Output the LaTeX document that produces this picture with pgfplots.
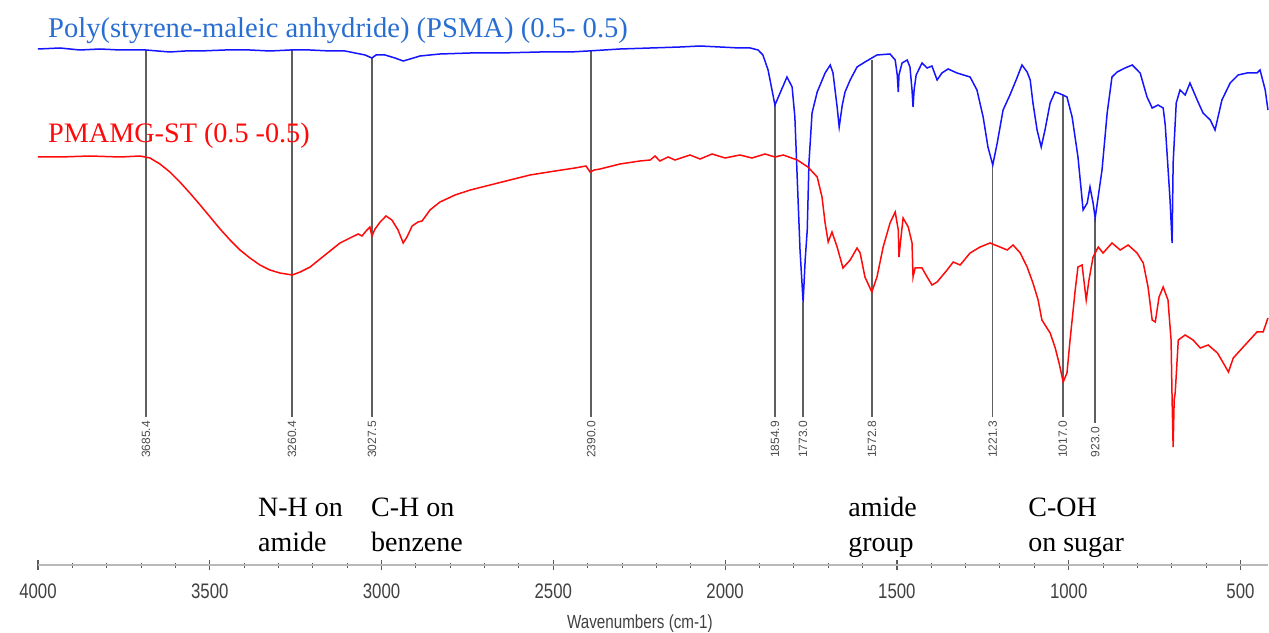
\documentclass[border=0pt]{standalone}
\usepackage{pgfplots}
\pgfplotsset{compat=1.18}
\usepackage{fontspec}
\setmainfont{Liberation Serif}
\newfontfamily\axfont[FakeStretch=0.8]{Liberation Sans}
\newfontfamily\pkfont{Liberation Sans}
\definecolor{specblue}{RGB}{20,20,255}
\definecolor{specred}{RGB}{255,10,10}
\definecolor{titleblue}{RGB}{40,110,210}
\definecolor{peakgray}{RGB}{95,95,95}

\begin{document}
\begin{tikzpicture}
\begin{axis}[
  scale only axis,
  width=1230pt, height=565pt,
  xmin=420, xmax=4000, ymin=0, ymax=565,
  x dir=reverse,
  axis x line=bottom, axis y line=none,
  x axis line style={-, draw=gray!55, line width=1.6pt},
  xtick={500,1000,...,4000},
  minor x tick num=4,
  tick align=center,
  major tick length=10pt, minor tick length=5pt,
  major tick style={draw=black!65, line width=1.2pt},
  minor tick style={draw=black!65, line width=1pt},
  xticklabel style={anchor=base, yshift=-28pt,
    font=\axfont\fontsize{21}{21}\selectfont, text=black!75},
  /pgf/number format/assume math mode=true,
  /pgf/number format/1000 sep={},
  clip=false,
]
% peak marker lines
\addplot[peakgray, line width=1.6pt] coordinates {(3685.4,515) (3685.4,148)};
\addplot[peakgray, line width=1.6pt] coordinates {(3260.4,515) (3260.4,148)};
\addplot[peakgray, line width=1.6pt] coordinates {(3027.5,507) (3027.5,148)};
\addplot[peakgray, line width=1.6pt] coordinates {(2390.0,514) (2390.0,148)};
\addplot[peakgray, line width=1.6pt] coordinates {(1854.9,460) (1854.9,148)};
\addplot[peakgray, line width=1.6pt] coordinates {(1773.0,263) (1773.0,148)};
\addplot[peakgray, line width=1.6pt] coordinates {(1572.8,505) (1572.8,148)};
\addplot[peakgray, line width=1.6pt] coordinates {(1221.3,400) (1221.3,148)};
\addplot[peakgray, line width=1.6pt] coordinates {(1017.0,470) (1017.0,148)};
\addplot[peakgray, line width=1.6pt] coordinates {(923.0,347) (923.0,142)};

% PSMA
\addplot[specblue, line width=1.5pt] table {
4000 516
3936 517
3878 515
3820 516
3761 515
3686 515
3616 513
3572 514
3528 514
3456 515
3383 515
3325 514
3266 515
3208 515
3150 514
3106 514
3077 512
3048 510
3028 507
3016 510
2990 510
2961 507
2937 504
2917 506
2888 509
2830 511
2742 512
2655 512
2539 513
2451 513
2399 514
2306 516
2218 517
2131 518
2073 519
2015 518
1957 517
1927 517
1904 515
1890 510
1875 495
1855 460
1840 472
1820 488
1805 478
1797 448
1788 368
1782 315
1773 263
1767 305
1761 335
1756 402
1747 452
1732 473
1709 492
1694 500
1686 492
1674 458
1668 438
1659 460
1651 473
1636 485
1616 498
1593 503
1573 507
1558 510
1520 511
1505 505
1499 490
1496 473
1494 490
1485 502
1470 505
1462 498
1456 475
1453 458
1450 475
1444 490
1427 502
1412 497
1398 499
1383 485
1369 492
1351 496
1325 492
1287 488
1267 475
1249 448
1235 418
1221 400
1208 422
1191 455
1171 470
1153 485
1136 500
1121 493
1112 485
1104 462
1092 435
1080 418
1069 435
1054 462
1040 473
1031 472
1017 470
1005 468
990 448
973 408
958 355
946 362
938 378
929 362
923 347
903 395
888 452
874 488
859 493
836 497
815 500
792 492
772 468
757 457
740 460
725 457
719 440
713 408
705 365
699 322
696 402
687 462
676 475
661 470
647 482
626 465
609 452
588 445
574 435
554 465
530 482
507 490
481 492
452 492
443 495
428 475
420 455
};

% PMAMG-ST
\addplot[specred, line width=1.5pt] table {
4000 408
3936 408
3849 409
3761 408
3703 409
3674 407
3645 401
3616 393
3587 383
3558 372
3528 360
3499 348
3470 336
3441 325
3412 315
3383 307
3354 300
3325 295
3296 292
3260 290
3237 293
3208 298
3179 306
3150 314
3121 322
3092 327
3068 331
3057 329
3045 334
3034 338
3028 329
3019 336
3004 343
2987 349
2970 345
2952 335
2937 322
2926 328
2911 339
2894 343
2882 344
2859 355
2830 363
2786 370
2742 375
2684 380
2626 385
2568 390
2495 394
2437 397
2405 399
2393 393
2381 395
2364 396
2306 401
2248 404
2218 405
2204 409
2190 404
2166 408
2146 405
2102 410
2073 406
2038 411
2000 407
1957 410
1922 407
1884 411
1855 408
1831 410
1790 405
1759 398
1732 388
1718 368
1709 342
1700 323
1689 333
1674 318
1657 297
1636 305
1616 317
1607 312
1593 288
1573 273
1558 288
1540 318
1520 342
1505 353
1496 335
1494 308
1488 328
1482 347
1467 338
1456 322
1453 288
1447 297
1427 297
1412 288
1398 280
1383 283
1354 295
1336 303
1316 300
1287 312
1258 318
1229 322
1200 318
1179 315
1162 320
1141 312
1121 298
1104 282
1089 265
1078 245
1054 232
1040 218
1028 202
1016 183
1005 192
996 225
981 275
973 298
961 300
949 265
941 285
929 308
914 318
900 312
874 322
850 315
827 320
801 312
783 302
769 278
757 245
748 243
737 268
725 278
711 265
702 225
699 165
696 118
693 165
690 172
681 225
661 230
638 225
617 217
594 220
567 212
550 202
535 193
521 207
492 218
452 233
434 233
420 247
};

% peak labels
\begin{scope}[every node/.style={rotate=90, anchor=east, inner sep=0pt,
    font=\pkfont\fontsize{12}{12}\selectfont, text=black!70}]
\node at (axis cs:3685.4,144) {3685.4};
\node at (axis cs:3260.4,144) {3260.4};
\node at (axis cs:3027.5,144) {3027.5};
\node at (axis cs:2390.0,144) {2390.0};
\node at (axis cs:1854.9,144) {1854.9};
\node at (axis cs:1773.0,144) {1773.0};
\node at (axis cs:1572.8,144) {1572.8};
\node at (axis cs:1221.3,144) {1221.3};
\node at (axis cs:1017.0,144) {1017.0};
\node at (axis cs:923.0,138) {923.0};
\end{scope}

% sample names
\node[anchor=base west, inner sep=0pt, text=titleblue,
  font=\fontsize{28.6}{28.6}\selectfont] at (axis cs:3971,527)
  {Poly(styrene-maleic anhydride) (PSMA) (0.5- 0.5)};
\node[anchor=base west, inner sep=0pt, text=specred,
  font=\fontsize{28.2}{28.2}\selectfont] at (axis cs:3971,422)
  {PMAMG-ST (0.5 -0.5)};

% band assignments
\begin{scope}[every node/.style={anchor=base west, inner sep=0pt,
    font=\fontsize{28}{28}\selectfont}]
\node at (axis cs:3360,49) {N-H on};
\node at (axis cs:3360,14) {amide};
\node at (axis cs:3031,49) {C-H on};
\node at (axis cs:3031,14) {benzene};
\node at (axis cs:1642,49) {amide};
\node at (axis cs:1642,14) {group};
\node at (axis cs:1118,49) {C-OH};
\node at (axis cs:1118,14) {on sugar};
\end{scope}

\node[anchor=base, inner sep=0pt, text=black!75,
  font=\axfont\fontsize{19}{19}\selectfont] at (axis cs:2248,0)
  [yshift=-63pt] {Wavenumbers (cm-1)};
\end{axis}
\pgfresetboundingbox
\path[use as bounding box] (-38pt,-67pt) rectangle (1231pt,565pt);
\end{tikzpicture}
\end{document}
